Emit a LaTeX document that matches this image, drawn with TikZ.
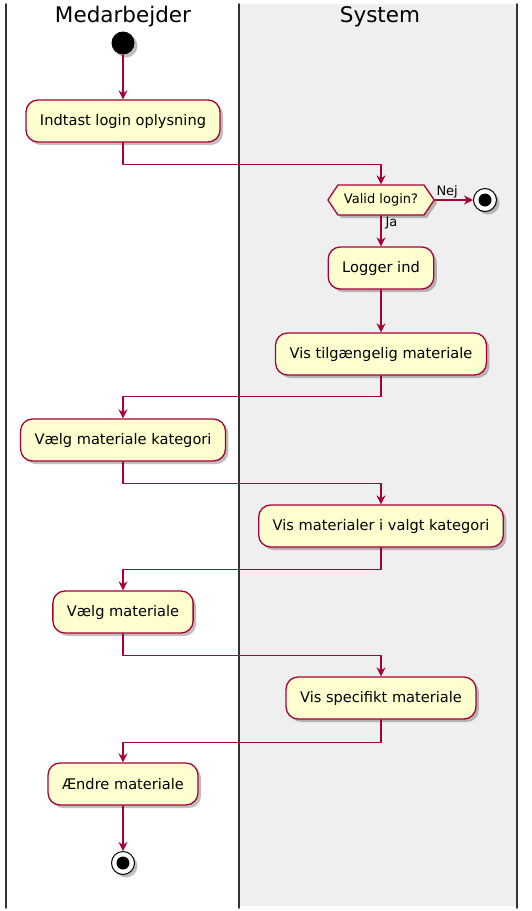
\documentclass[tikz,border=0pt]{standalone}
\usepackage{fontspec}
\setmainfont{DejaVu Sans}
\usetikzlibrary{arrows.meta,shapes.symbols,shadows}
\definecolor{umlred}{HTML}{A80036}
\definecolor{umlfill}{HTML}{FEFECE}
\definecolor{lanegray}{HTML}{EFEFEF}
\definecolor{laneline}{HTML}{333333}

\begin{document}
\begin{tikzpicture}[x=1pt, y=-1pt, line cap=round, line join=round,
  shade/.style={drop shadow={shadow xshift=3pt, shadow yshift=-3pt, opacity=0.25, fill=black}},
  act/.style={draw=umlred, fill=umlfill, line width=1.3pt, rounded corners=12pt,
              minimum height=42pt, inner xsep=14pt, font=\fontsize{14.6}{17}\selectfont, shade},
  decide/.style={draw=umlred, fill=umlfill, line width=1.3pt, signal, signal to=west and east,
                 signal pointer angle=112, minimum height=30pt, inner xsep=6pt,
                 font=\fontsize{13}{15}\selectfont, shade},
  flow/.style={draw=umlred, line width=1.2pt, -{Stealth[length=9pt, width=9pt, inset=3pt]}},
  lbl/.style={font=\fontsize{13}{15}\selectfont, inner sep=1pt},
  lane/.style={color=laneline, line width=1.8pt},
  title/.style={font=\fontsize{21.5}{24}\selectfont}]
\useasboundingbox (0,0) rectangle (531,911);
% swimlanes
\fill[lanegray] (240,4) rectangle (516,906);
\draw[lane] (6,4) -- (6,908);
\draw[lane] (239,4) -- (239,908);
\draw[lane] (517,4) -- (517,908);
\node[title] (medarb) at (123,17) {Medarbejder};
\node[title] (system) at (380,17) {System};
% start
\node[circle, fill=black, minimum size=23pt, inner sep=0pt, shade] (start) at (123,43) {};
\node[act] (login) at (123,121) {Indtast login oplysning};
\node[decide] (valid) at (381,200) {Valid login?};
\node[circle, draw=black, fill=white, line width=1pt, minimum size=23pt, inner sep=0pt, shade] (stop1) at (485,200) {};
\fill[black] (stop1) circle (6.5);
\node[act] (logger) at (381,268) {Logger ind};
\node[act] (vistilg) at (381,354) {Vis tilgængelig materiale};
\node[act] (kategori) at (123,440) {Vælg materiale kategori};
\node[act] (vismat) at (381,526) {Vis materialer i valgt kategori};
\node[act] (vaelg) at (123,612) {Vælg materiale};
\node[act] (visspec) at (381,698) {Vis specifikt materiale};
\node[act] (aendre) at (123,784) {Ændre materiale};
\node[circle, draw=black, fill=white, line width=1pt, minimum size=23pt, inner sep=0pt, shade] (stop2) at (123,863) {};
\fill[black] (stop2) circle (6.5);
% flows
\draw[flow] (start) -- (login);
\draw[flow] (login.south) -- ++(0,22) -| (valid.north);
\draw[flow] (valid.east) -- (stop1.west) node[lbl, pos=0, anchor=south west] {Nej};
\draw[flow] (valid.south) -- (logger.north) node[lbl, pos=0, anchor=north west, xshift=3pt] {Ja};
\draw[flow] (logger) -- (vistilg);
\draw[flow] (vistilg.south) -- ++(0,21) -| (kategori.north);
\draw[flow] (kategori.south) -- ++(0,22) -| (vismat.north);
\draw[flow] (vismat.south) -- ++(0,22) -| (vaelg.north);
\draw[flow] (vaelg.south) -- ++(0,22) -| (visspec.north);
\draw[flow] (visspec.south) -- ++(0,23) -| (aendre.north);
\draw[flow] (aendre) -- (stop2);
\end{tikzpicture}
\end{document}
